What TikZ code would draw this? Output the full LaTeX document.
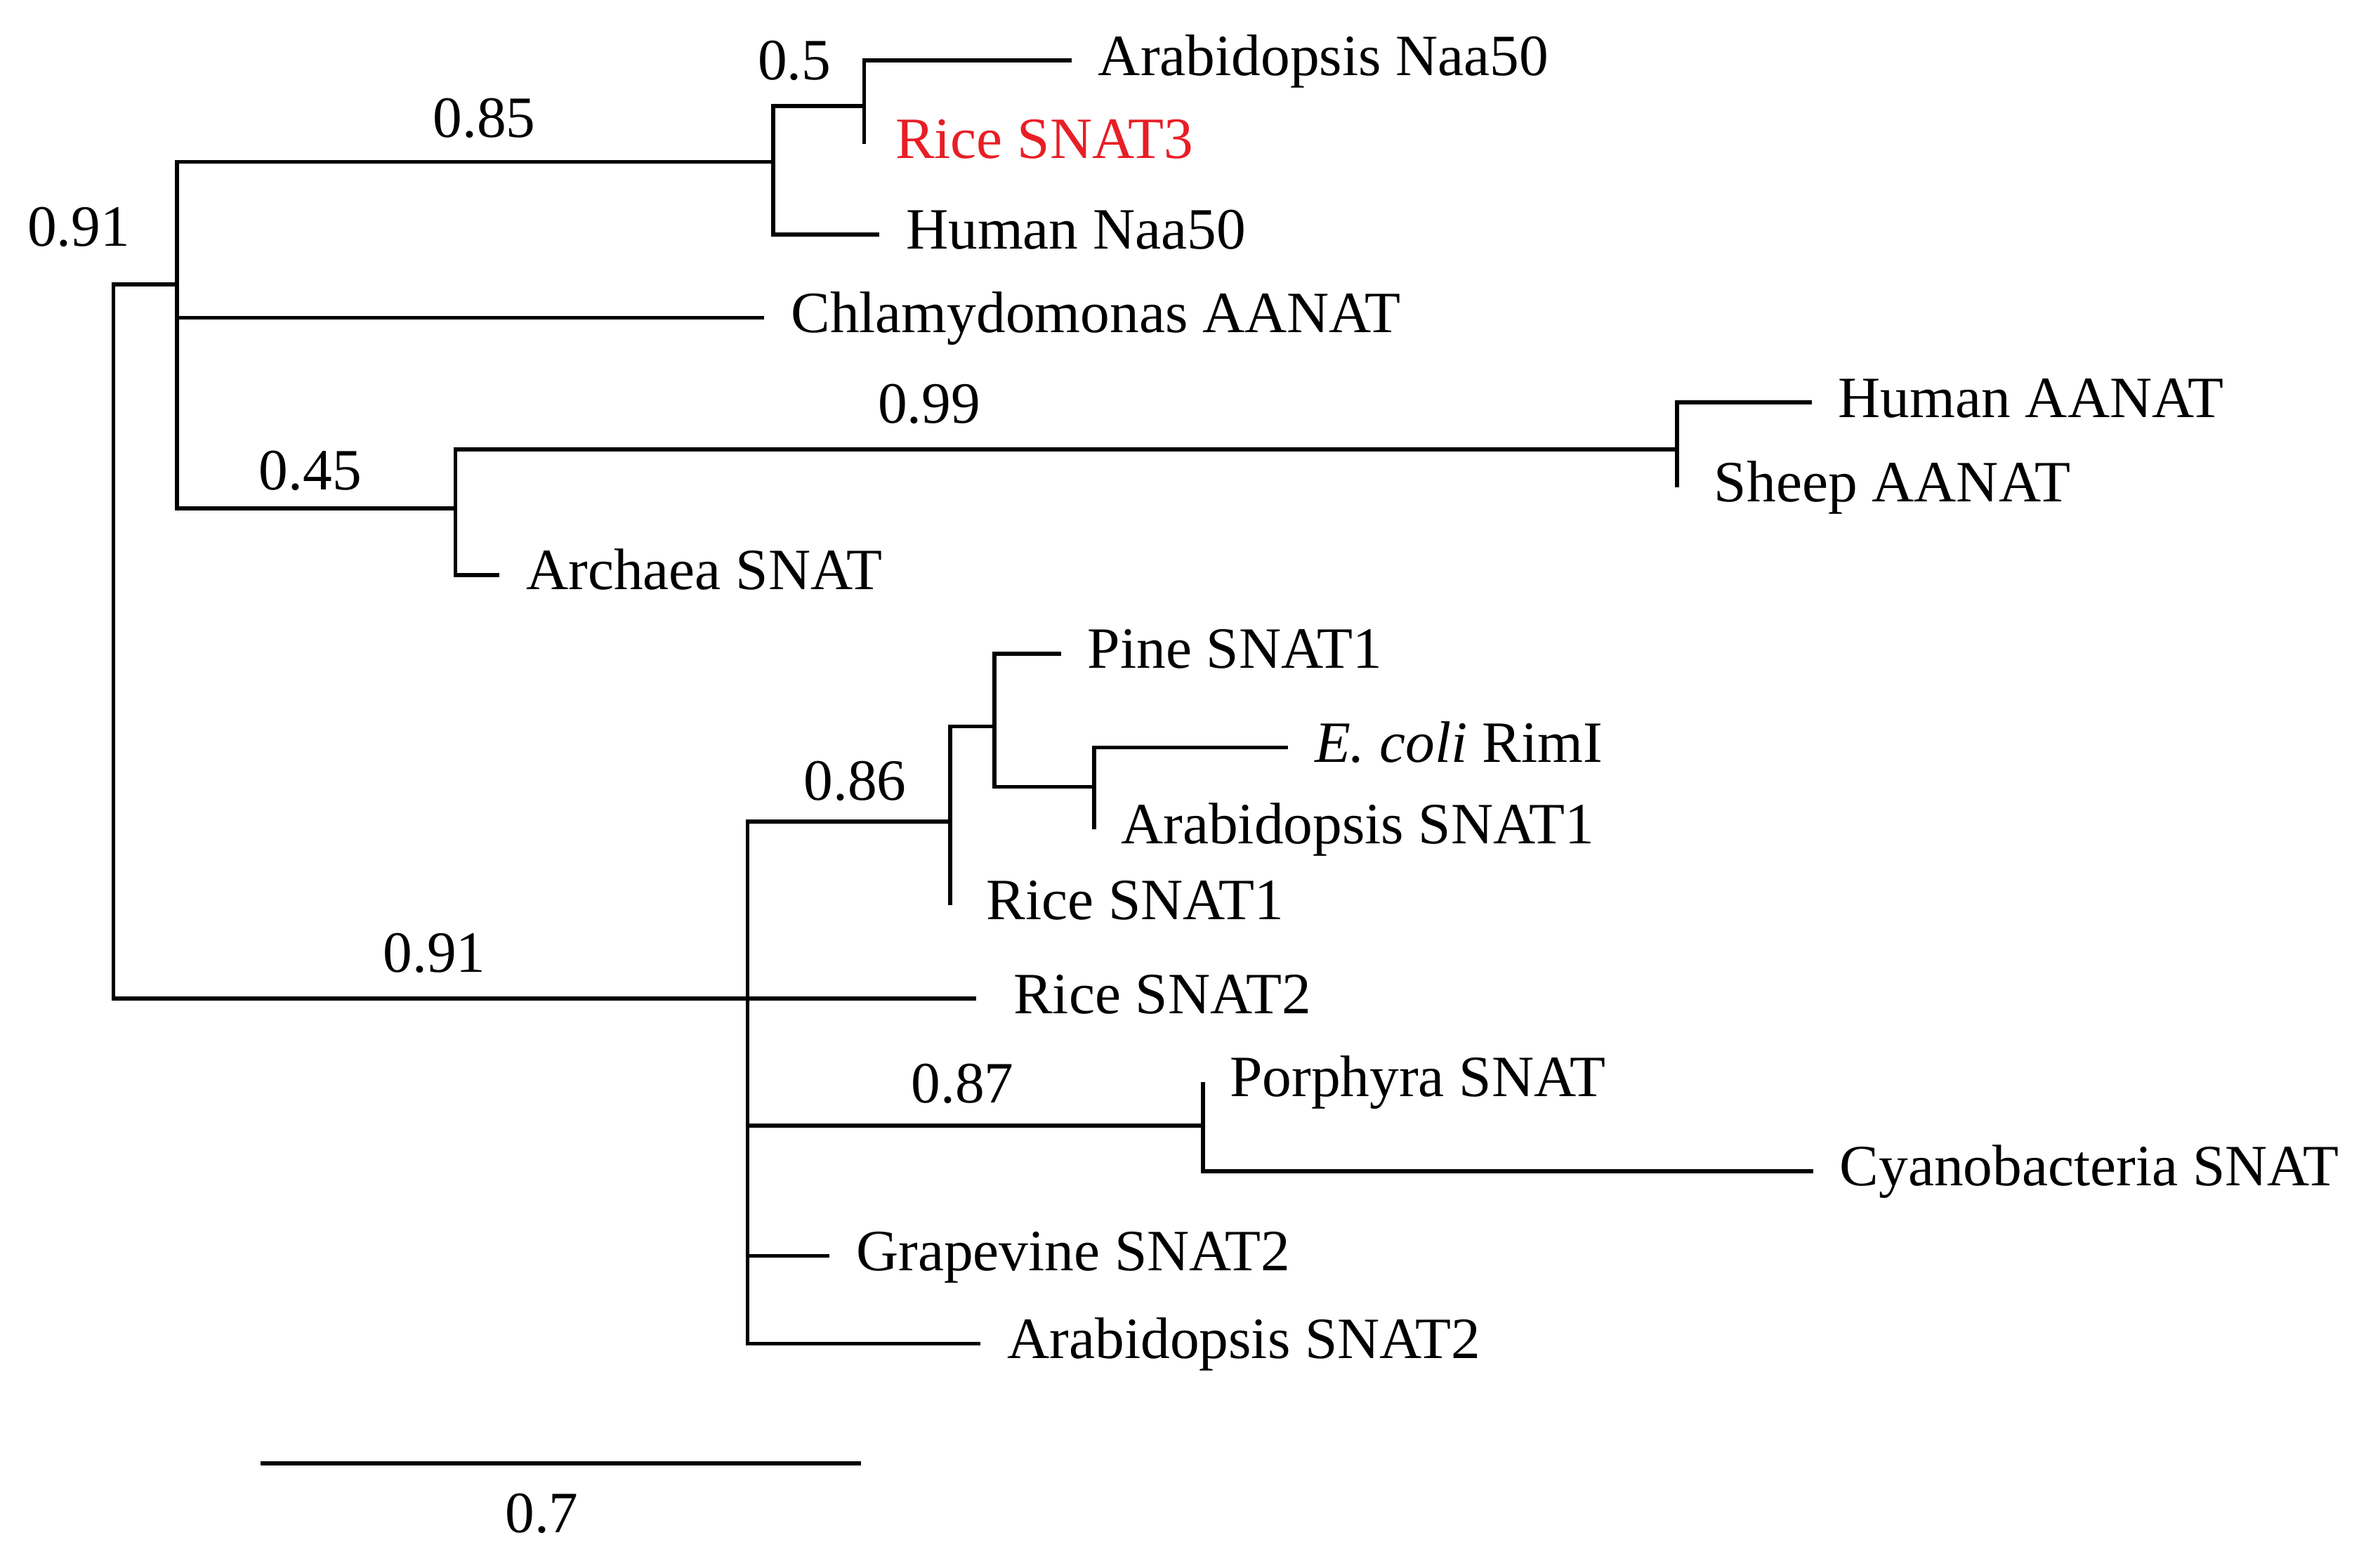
\documentclass[tikz,border=0pt]{standalone}
\usepackage{fontspec}
\setmainfont{Liberation Serif}
\usetikzlibrary{positioning}
\definecolor{snatred}{RGB}{232,30,38}

\begin{document}
\begin{tikzpicture}[x=0.01cm,y=-0.01cm,
          every node/.style={font=\fontsize{11}{13}\selectfont},
          branch/.style={line width=0.75pt},
          leaf/.style={anchor=west,inner xsep=0.17cm,inner ysep=0pt,text height=0.75em,text depth=0.2em},
          zleaf/.style={leaf,inner xsep=0.2cm}]
          \useasboundingbox (0,0) rectangle (1568,1036);
          % inner nodes
          \coordinate (root) at (75,424);
          \coordinate (upper) at (117,188);
          \coordinate (naa) at (511,107);
          \coordinate (naa50) at (571,70);
          \coordinate (arch) at (301,336);
          \coordinate (aanat) at (1108,297);
          \coordinate (lower) at (494,660);
          \coordinate (snat1) at (628,543);
          \coordinate (pineN) at (657,480);
          \coordinate (rimi) at (723,520);
          \coordinate (cyanoN) at (795,744);
          % leaves
          \node[leaf] (araNaa) at (708,40) {Arabidopsis Naa50};
          \node[zleaf,text=snatred] (riceS3) at (571,95) {Rice SNAT3};
          \node[leaf] (humNaa) at (581,155) {Human Naa50};
          \node[leaf] (chlamy) at (505,210) {Chlamydomonas AANAT};
          \node[leaf] (humAA) at (1197,266) {Human AANAT};
          \node[zleaf,inner xsep=0.24cm] (sheepAA) at (1108,322) {Sheep AANAT};
          \node[leaf] (archaea) at (330,380) {Archaea SNAT};
          \node[leaf] (pine) at (701,432) {Pine SNAT1};
          \node[leaf] (ecoli) at (851,494) {\textit{E. coli} RimI};
          \node[zleaf,inner xsep=0.17cm] (araS1) at (723,548) {Arabidopsis SNAT1};
          \node[zleaf,inner xsep=0.23cm] (riceS1) at (628,598) {Rice SNAT1};
          \node[leaf,inner xsep=0.24cm] (riceS2) at (645,660) {Rice SNAT2};
          \node[zleaf,inner xsep=0.17cm] (porph) at (795,715) {Porphyra SNAT};
          \node[leaf] (cyano) at (1198,774) {Cyanobacteria SNAT};
          \node[leaf] (grape) at (548,830) {Grapevine SNAT2};
          \node[leaf] (araS2) at (648,888) {Arabidopsis SNAT2};
          % branches
          \draw[branch] (root) |- (upper) (root) |- (lower);
          \draw[branch] (upper) |- (naa) (upper) |- (chlamy.west) (upper) |- (arch);
          \draw[branch] (naa) |- (naa50) (naa) |- (humNaa.west);
          \draw[branch] (naa50) |- (araNaa.west) (naa50) -- (naa50 |- riceS3.west);
          \draw[branch] (arch) |- (aanat) (arch) |- (archaea.west);
          \draw[branch] (aanat) |- (humAA.west) (aanat) -- (aanat |- sheepAA.west);
          \draw[branch] (lower) |- (snat1) (lower) -- (riceS2.west) (lower) |- (cyanoN)
            (lower) |- (grape.west) (lower) |- (araS2.west);
          \draw[branch] (snat1) |- (pineN) (snat1) -- (snat1 |- riceS1.west);
          \draw[branch] (pineN) |- (pine.west) (pineN) |- (rimi);
          \draw[branch] (rimi) |- (ecoli.west) (rimi) -- (rimi |- araS1.west);
          \draw[branch] (cyanoN) -- (cyanoN |- porph.west) (cyanoN) |- (cyano.west);
          % support values
          \node (s1) at (52,150) {0.91};
          \node (s2) at (320,78) {0.85};
          \node (s3) at (525,40) {0.5};
          \node (s4) at (614,267) {0.99};
          \node (s5) at (205,311) {0.45};
          \node (s6) at (565,516) {0.86};
          \node (s7) at (287,630) {0.91};
          \node (s8) at (636,716) {0.87};
          % scale bar
          \coordinate (sbL) at (172,967);
          \coordinate (sbR) at (569,967);
          \draw[branch] (sbL) -- (sbR);
          \node (sbval) at (358,1000) {0.7};
        \end{tikzpicture}
\end{document}
